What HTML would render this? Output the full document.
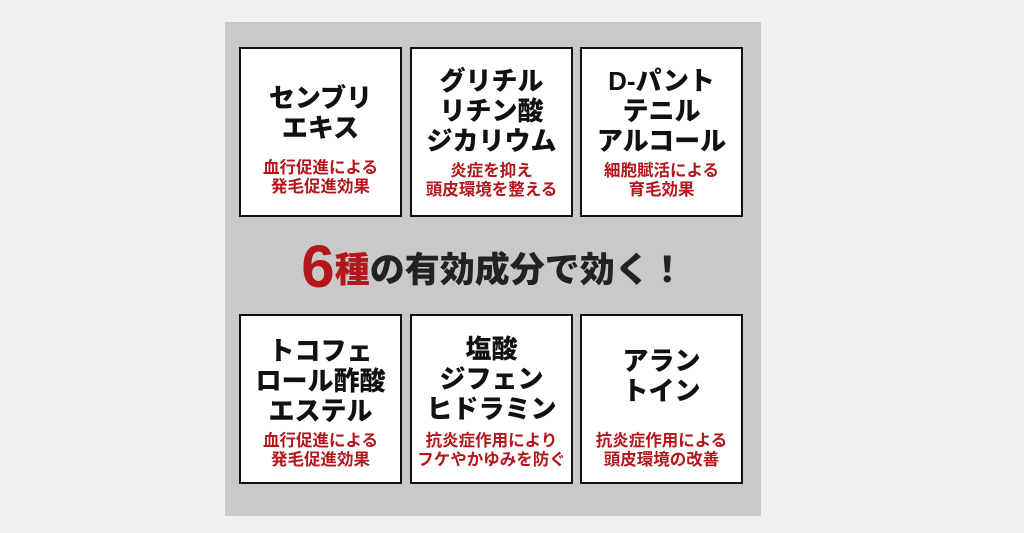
<!DOCTYPE html>
<html><head><meta charset="utf-8"><style>
body{margin:0;width:1024px;height:533px;background:#f1f1f1;position:relative;overflow:hidden;font-family:"Liberation Sans","Noto Sans CJK JP",sans-serif;}
.panel{position:absolute;left:225px;top:22px;width:536px;height:494px;background:#c9c9c9;}
.box{position:absolute;width:163px;height:170px;background:#fff;border:2px solid #111;box-sizing:border-box;}
.t{position:absolute;left:0;right:0;text-align:center;font-weight:900;font-size:26px;line-height:30px;color:#111;}
.r{position:absolute;left:0;right:0;text-align:center;font-weight:700;font-size:16.5px;line-height:19px;color:#b3161b;}
.h{position:absolute;left:225px;width:536px;top:232px;text-align:center;font-weight:900;color:#222;font-size:35px;white-space:nowrap;}
</style></head><body>
<div class="panel"></div>
<div class="box" style="left:239px;top:47px"><div class="t" style="top:34px">センブリ<br>エキス</div><div class="r" style="top:110px">血行促進による<br>発毛促進効果</div></div>
<div class="box" style="left:410px;top:47px"><div class="t" style="top:17px">グリチル<br>リチン酸<br>ジカリウム</div><div class="r" style="top:113px">炎症を抑え<br>頭皮環境を整える</div></div>
<div class="box" style="left:580px;top:47px"><div class="t" style="top:17px">D-パント<br>テニル<br>アルコール</div><div class="r" style="top:113px">細胞賦活による<br>育毛効果</div></div>
<div class="h"><span style="color:#b3161b;font-size:60px;vertical-align:-5px">6</span><span style="color:#b3161b">種</span>の有効成分で効く！</div>
<div class="box" style="left:239px;top:314px"><div class="t" style="top:20px">トコフェ<br>ロール酢酸<br>エステル</div><div class="r" style="top:116px">血行促進による<br>発毛促進効果</div></div>
<div class="box" style="left:410px;top:314px"><div class="t" style="top:18px">塩酸<br>ジフェン<br>ヒドラミン</div><div class="r" style="top:116px">抗炎症作用により<br>フケやかゆみを防ぐ</div></div>
<div class="box" style="left:580px;top:314px"><div class="t" style="top:30px">アラン<br>トイン</div><div class="r" style="top:116px">抗炎症作用による<br>頭皮環境の改善</div></div>
</body></html>
